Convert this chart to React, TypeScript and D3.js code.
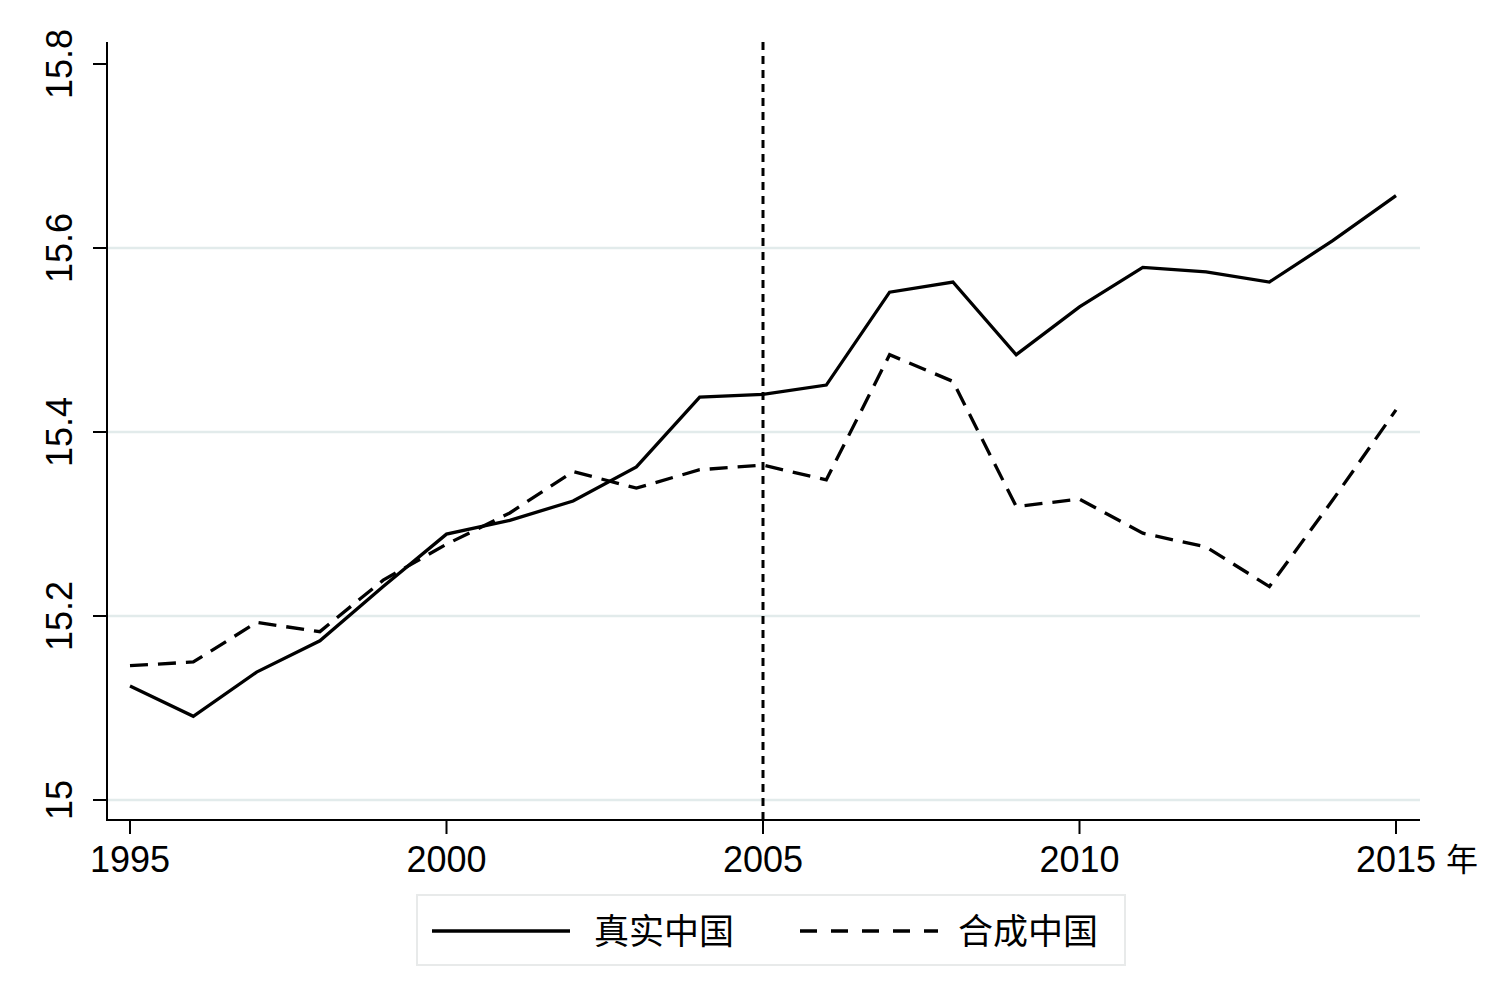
import React from "react";
import * as d3 from "d3";

const years = d3.range(1995, 2016);
const realChina = [
  15.124, 15.091, 15.139, 15.173, 15.232, 15.289, 15.304, 15.325, 15.362, 15.438,
  15.441, 15.451, 15.552, 15.563, 15.484, 15.536, 15.579, 15.574, 15.563, 15.608, 15.657,
];
const synthChina = [
  15.146, 15.15, 15.193, 15.183, 15.239, 15.278, 15.312, 15.357, 15.339, 15.359,
  15.364, 15.348, 15.484, 15.455, 15.319, 15.327, 15.29, 15.275, 15.232, 15.326, 15.424,
];
const xTicks = [1995, 2000, 2005, 2010, 2015];
const yTicks = [15, 15.2, 15.4, 15.6, 15.8];
const gridTicks = [15, 15.2, 15.4, 15.6];
const treatYear = 2005;
const legendLabels = ["真实中国", "合成中国"];
const yearUnit = "年";

const W = 1502;
const H = 984;

export default function App() {
  const x = d3.scaleLinear().domain([1995, 2015]).range([130, 1396]);
  const y = d3.scaleLinear().domain([15, 15.8]).range([800, 64]);
  const plotLeft = 107;
  const plotRight = 1420;
  const plotTop = 42;
  const plotBottom = 820;

  const line = d3
    .line<number>()
    .x((_, i) => x(years[i]))
    .y((d) => y(d));

  const numFont = "'Liberation Sans', Arial, Helvetica, sans-serif";
  const cjkFont = "'Noto Sans CJK SC', sans-serif";

  return (
    <svg
      width={W}
      height={H}
      style={{ position: "absolute", left: 0, top: 0, background: "#fff" }}
    >
      <rect x={0} y={0} width={W} height={H} fill="#fff" />
      {gridTicks.map((t) => (
        <line
          key={"g" + t}
          x1={plotLeft}
          x2={plotRight}
          y1={y(t)}
          y2={y(t)}
          stroke="#e2ebeb"
          strokeWidth={2.5}
        />
      ))}
      <line x1={plotLeft} x2={plotLeft} y1={plotTop} y2={plotBottom + 1} stroke="#000" strokeWidth={2} />
      <line x1={plotLeft} x2={plotRight} y1={plotBottom} y2={plotBottom} stroke="#000" strokeWidth={2} />
      {yTicks.map((t) => (
        <g key={"y" + t}>
          <line x1={plotLeft - 14} x2={plotLeft} y1={y(t)} y2={y(t)} stroke="#000" strokeWidth={2} />
          <text
            transform={`translate(72,${y(t)}) rotate(-90)`}
            textAnchor="middle"
            fontFamily={numFont}
            fontSize={36}
            fill="#000"
          >
            {d3.format("")(t)}
          </text>
        </g>
      ))}
      {xTicks.map((t) => (
        <g key={"x" + t}>
          <line x1={x(t)} x2={x(t)} y1={plotBottom} y2={plotBottom + 14} stroke="#000" strokeWidth={2} />
          <text
            x={x(t)}
            y={872}
            textAnchor="middle"
            fontFamily={numFont}
            fontSize={36}
            fill="#000"
          >
            {t}
          </text>
        </g>
      ))}
      <text x={1446} y={871} fontFamily={cjkFont} fontSize={32} fill="#000">
        {yearUnit}
      </text>
      <line
        x1={x(treatYear)}
        x2={x(treatYear)}
        y1={plotTop}
        y2={plotBottom}
        stroke="#000"
        strokeWidth={3}
        strokeDasharray="8,6"
      />
      <path d={line(realChina) || ""} fill="none" stroke="#000" strokeWidth={3.3} />
      <path
        d={line(synthChina) || ""}
        fill="none"
        stroke="#000"
        strokeWidth={3.3}
        strokeDasharray="18,10"
      />
      <rect x={417} y={895} width={708} height={70} fill="#fff" stroke="#e8eaea" strokeWidth={2} />
      <line x1={432} x2={570} y1={931} y2={931} stroke="#000" strokeWidth={3.3} />
      <text x={594} y={944} fontFamily={cjkFont} fontSize={35} fill="#000">
        {legendLabels[0]}
      </text>
      <line x1={800} x2={938} y1={931} y2={931} stroke="#000" strokeWidth={3.3} strokeDasharray="17,14" />
      <text x={958} y={944} fontFamily={cjkFont} fontSize={35} fill="#000">
        {legendLabels[1]}
      </text>
    </svg>
  );
}
